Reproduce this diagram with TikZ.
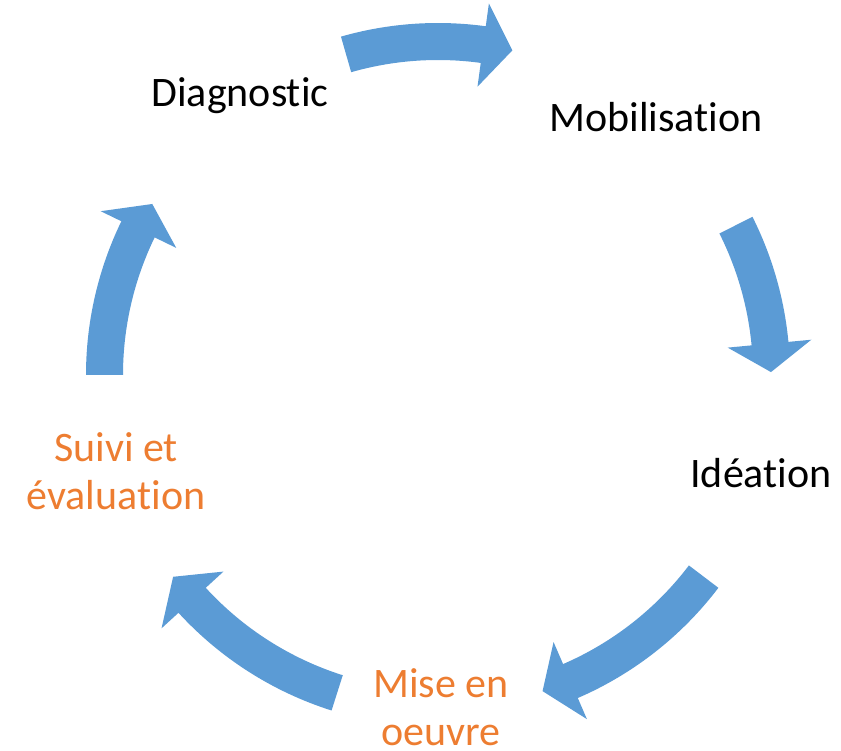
\documentclass[tikz,border=0pt]{standalone}
\usepackage{fontspec}
\setmainfont{Carlito}[Ligatures=NoCommon]
\definecolor{arrowblue}{HTML}{5B9BD5}
\definecolor{labelorange}{HTML}{ED7D31}
\newcommand{\tisep}{t\kern0pt i}
\tikzset{
  lbl/.style={inner sep=0pt, anchor=base, align=center, font=\fontsize{42}{48}\selectfont},
  cyc/.style={fill=arrowblue, draw=none},
}
% #1 tail angle, #2 head-base angle, #3 tip angle (clockwise arrow)
\newcommand{\cycarrow}[3]{%
  \fill[cyc, shift={(ctr)}] (#1:352) arc[start angle=#1, end angle=#2, radius=352]
    -- (#2:375) -- (#3:333) -- (#2:291) -- (#2:315)
    arc[start angle=#2, end angle=#1, radius=315] -- cycle;}
\begin{document}
\begin{tikzpicture}[x=1pt,y=1pt]
\useasboundingbox (0,0) rectangle (841,750);
\coordinate (ctr) at (438,375);
\node[lbl] (diag) at (240,643) {Diagnos\tisep c};
\node[lbl] (mob) at (656,618) {Mobilisa\tisep on};
\node[lbl] (idea) at (761,262) {Idéa\tisep on};
\node[lbl, text=labelorange] (mise) at (441,5) {Mise en\\oeuvre};
\node[lbl, text=labelorange] (suivi) at (116,240) {Suivi et\\évaluation};
\cycarrow{106}{82.2}{77.1}
\cycarrow{26.7}{5.4}{0.5}
\cycarrow{-37.2}{-66.6}{-71.7}
\cycarrow{-107.6}{-137.5}{-142.7}
\cycarrow{180}{154.1}{149.1}
\end{tikzpicture}
\end{document}
